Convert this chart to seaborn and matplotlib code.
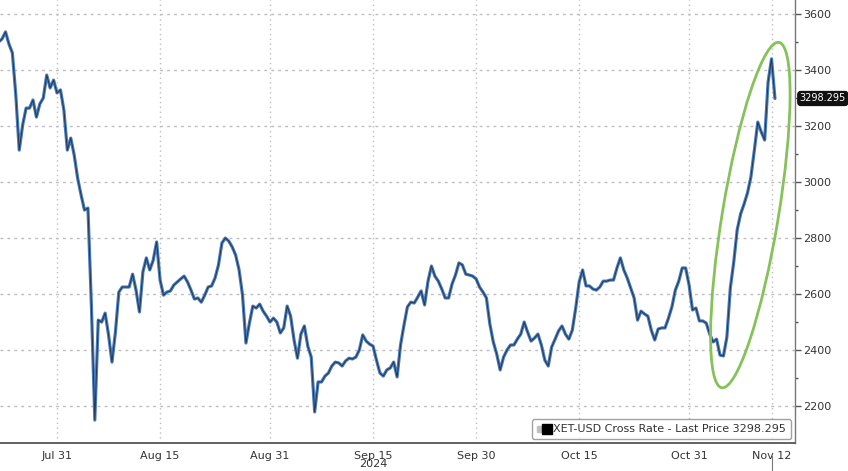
import matplotlib
matplotlib.use("Agg")
import matplotlib.pyplot as plt
import matplotlib.dates as mdates
from matplotlib.patches import Ellipse
from matplotlib.lines import Line2D
from matplotlib.legend_handler import HandlerTuple
from matplotlib.transforms import IdentityTransform, blended_transform_factory
import seaborn as sns
import pandas as pd

# ---------------- data ----------------
series_start = "2024-07-22 12:00"
series_freq = "12h"
prices = [3500, 3511, 3536, 3493, 3461, 3311, 3114, 3204, 3264, 3264,
          3293, 3232, 3279, 3300, 3382, 3336, 3364, 3318, 3329, 3257,
          3114, 3157, 3096, 3014, 2954, 2900, 2907, 2561, 2150, 2507,
          2500, 2532, 2454, 2357, 2464, 2607, 2625, 2625, 2625, 2671,
          2614, 2536, 2679, 2729, 2686, 2721, 2786, 2650, 2596, 2607,
          2611, 2632, 2643, 2654, 2664, 2643, 2614, 2582, 2586, 2571,
          2596, 2625, 2629, 2657, 2704, 2782, 2800, 2789, 2768, 2739,
          2686, 2596, 2425, 2496, 2557, 2550, 2564, 2539, 2521, 2500,
          2514, 2500, 2461, 2479, 2557, 2521, 2436, 2371, 2457, 2486,
          2414, 2375, 2179, 2286, 2286, 2307, 2318, 2343, 2357, 2354,
          2343, 2361, 2371, 2368, 2375, 2400, 2454, 2432, 2421, 2414,
          2364, 2318, 2307, 2329, 2336, 2357, 2304, 2418, 2489, 2554,
          2571, 2568, 2589, 2611, 2561, 2646, 2700, 2664, 2646, 2618,
          2586, 2586, 2636, 2668, 2711, 2704, 2671, 2668, 2664, 2654,
          2625, 2607, 2586, 2493, 2429, 2386, 2329, 2375, 2400, 2418,
          2418, 2439, 2457, 2500, 2464, 2432, 2443, 2457, 2418, 2364,
          2343, 2411, 2439, 2468, 2486, 2457, 2439, 2471, 2550, 2643,
          2686, 2629, 2629, 2618, 2614, 2625, 2646, 2646, 2650, 2650,
          2693, 2729, 2686, 2657, 2621, 2586, 2507, 2539, 2529, 2521,
          2471, 2436, 2475, 2479, 2479, 2514, 2554, 2614, 2646, 2693,
          2693, 2632, 2543, 2550, 2504, 2504, 2496, 2457, 2429, 2439,
          2382, 2379, 2446, 2621, 2714, 2829, 2886, 2921, 2961, 3018,
          3114, 3214, 3179, 3150, 3357, 3440, 3298.295]
last_price = 3298.295
series_label = "XET-USD Cross Rate - Last Price 3298.295"

major_dates = ["2024-07-31", "2024-08-15", "2024-08-31", "2024-09-15",
               "2024-09-30", "2024-10-15", "2024-10-31", "2024-11-12"]
major_labels = ["Jul 31", "Aug 15", "Aug 31", "Sep 15",
                "Sep 30", "Oct 15", "Oct 31", "Nov 12"]
minor_dates = ["2024-08-08", "2024-08-23", "2024-09-08", "2024-09-23",
               "2024-10-08", "2024-10-23", "2024-11-08"]
year_label = "2024"
year_label_date = "2024-09-15"
y_major = [2200, 2400, 2600, 2800, 3000, 3200, 3400, 3600]
y_minor = [2300, 2500, 2700, 2900, 3100, 3300, 3500]
x_range = ["2024-07-22 16:48", "2024-11-15 10:00"]
y_range = [2068, 3650]

# highlight ellipse anchor (data)
highlight_center = ("2024-11-08 22:00", 2882)

# ---------------- figure ----------------
sns.set_style("white")
plt.rcParams["font.family"] = ["DejaVu Sans"]

fig = plt.figure(figsize=(8.48, 4.71), dpi=100)
ax = fig.add_axes([0.0, 0.0594, 0.9375, 0.9406])

df = pd.DataFrame({
    "time": pd.date_range(series_start, periods=len(prices), freq=series_freq),
    "price": prices,
})

sns.lineplot(data=df, x="time", y="price", ax=ax, color="#4a7cbc",
             linewidth=2.3, zorder=3)
sns.lineplot(data=df, x="time", y="price", ax=ax, color="#111a26",
             linewidth=0.7, alpha=0.7, zorder=4)

ax.set_xlim(pd.Timestamp(x_range[0]), pd.Timestamp(x_range[1]))
ax.set_ylim(*y_range)
ax.set_xlabel("")
ax.set_ylabel("")

# x axis ticks
ax.set_xticks([pd.Timestamp(d) for d in major_dates])
ax.set_xticklabels(major_labels)
ax.set_xticks([pd.Timestamp(d) for d in minor_dates], minor=True)
ax.tick_params(axis="x", which="major", direction="out", length=4, width=1,
               color="#444444", labelsize=8, labelcolor="#333333", pad=1.5)
ax.tick_params(axis="x", which="minor", direction="out", length=3, width=1,
               color="#444444")

# y axis on right
ax.yaxis.tick_right()
ax.set_yticks(y_major)
ax.set_yticks(y_minor, minor=True)
ax.tick_params(axis="y", which="major", direction="out", length=4, width=1,
               color="#555555", labelsize=8, labelcolor="#333333", pad=2)
ax.tick_params(axis="y", which="minor", direction="out", length=2.5, width=1,
               color="#555555")

# grid
ax.grid(True, which="major", axis="y", color="#bdbdbd", linestyle=(0, (2, 3)),
        linewidth=1.0)
ax.grid(True, which="major", axis="x", color="#bdbdbd", linestyle=(0, (1, 2.5)),
        linewidth=1.0)
ax.set_axisbelow(True)

for side in ["left", "top"]:
    ax.spines[side].set_visible(False)
ax.spines["bottom"].set_color("#555555")
ax.spines["bottom"].set_linewidth(1.3)
ax.spines["right"].set_color("#777777")
ax.spines["right"].set_linewidth(1.0)

# year label
ax.text(pd.Timestamp(year_label_date), -0.037, year_label,
        transform=blended_transform_factory(ax.transData, ax.transAxes),
        ha="center", va="top", fontsize=8, color="#333333")

# small marker under last date
ax.plot([pd.Timestamp(major_dates[-1])] * 2, [-0.03, -0.07],
        transform=blended_transform_factory(ax.transData, ax.transAxes),
        color="#777777", linewidth=0.8, clip_on=False)

# last price tag
ax.text(1.006, last_price, f"{last_price:.3f}",
        transform=ax.get_yaxis_transform(), ha="left", va="center",
        fontsize=7, color="white",
        bbox=dict(boxstyle="round,pad=0.2,rounding_size=0.3",
                  facecolor="#111111", edgecolor="#111111"))

# legend
handles = [(Line2D([], [], marker="s", color="#c0c0c0", linestyle="",
                   markersize=5),
            Line2D([], [], marker="s", color="black", linestyle="",
                   markersize=7))]
leg = ax.legend(handles, [series_label], loc="lower right",
                bbox_to_anchor=(0.998, 0.003),
                handler_map={tuple: HandlerTuple(ndivide=None, pad=0.15)},
                handlelength=1.2, handletextpad=0.3, fontsize=8,
                frameon=True, fancybox=True, borderpad=0.45,
                borderaxespad=0.2)
leg.get_frame().set_edgecolor("#8a8a8a")
leg.get_frame().set_linewidth(1.0)
for t in leg.get_texts():
    t.set_color("#333333")

# highlight ellipse around the rally
fig.canvas.draw()
cx, cy = ax.transData.transform(
    (mdates.date2num(pd.Timestamp(highlight_center[0])), highlight_center[1]))
ell = Ellipse((cx, cy), width=56, height=350, angle=-9.4,
              transform=IdentityTransform(), fill=False,
              edgecolor="#86c25a", linewidth=2.0, zorder=6)
fig.add_artist(ell)

fig.savefig("out.png", dpi=100, facecolor="white")
